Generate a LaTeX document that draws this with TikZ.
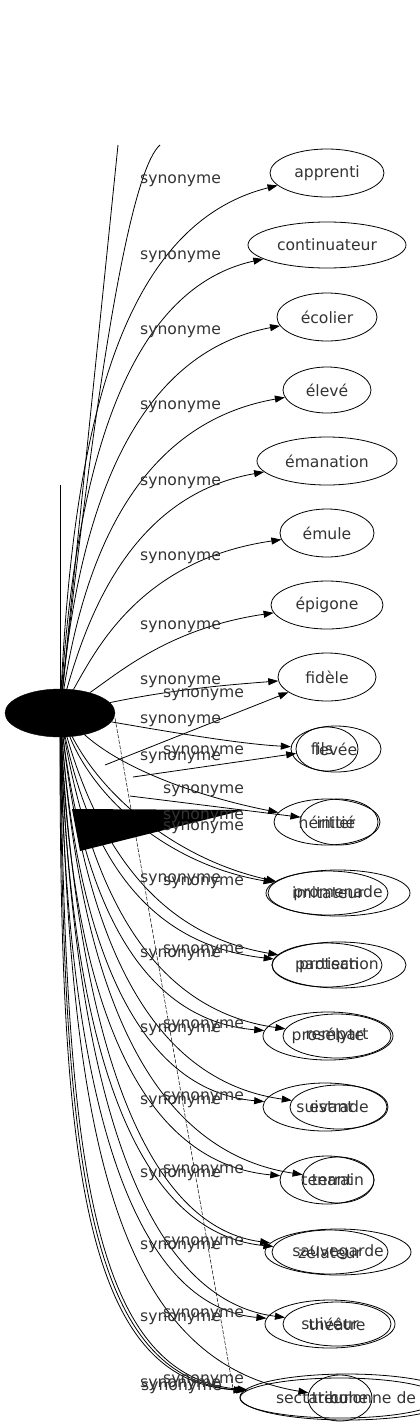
\documentclass[tikz,border=0pt]{standalone}
\usepackage{fontspec}
\usetikzlibrary{shapes.geometric,arrows.meta}
\newfontfamily\dvsans{DejaVu Sans}
\newcommand\synfont{\dvsans\fontsize{15.6}{18}\selectfont}
\definecolor{txt}{gray}{0.2}
\tikzset{
  syn/.style={draw, ellipse, inner sep=0pt, text=txt, font=\synfont, line width=0.8pt},
  txtonly/.style={inner sep=0pt, text=txt, font=\synfont},
  lab/.style={inner sep=0pt, anchor=west, text=txt, font=\synfont},
  edge/.style={line width=0.8pt},
  arr/.style={line width=0.8pt, -{Triangle[length=10pt,width=7pt]}}
}
\begin{document}
\begin{tikzpicture}[x=1pt,y=-1pt]
\useasboundingbox (0,0) rectangle (420,1427);
% main node
\node[draw, fill=black, ellipse, minimum width=110pt, minimum height=48pt, inner sep=0pt] (m) at (60,713) {};
% upper nodes
\node[syn, minimum width=114pt, minimum height=48pt] (apprenti) at (327,173) {apprenti};
\node[syn, minimum width=158pt, minimum height=46pt] (continuateur) at (327,245) {continuateur};
\node[syn, minimum width=100pt, minimum height=48pt] (ecolier) at (327,317) {écolier};
\node[syn, minimum width=88pt, minimum height=46pt] (eleve) at (327,390) {élevé};
\node[syn, minimum width=140pt, minimum height=48pt] (emanation) at (327,461) {émanation};
\node[syn, minimum width=94pt, minimum height=48pt] (emule) at (327,533) {émule};
\node[syn, minimum width=112pt, minimum height=48pt] (epigone) at (327,605) {épigone};
\node[syn, minimum width=98pt, minimum height=48pt] (fidele) at (327,677) {fidèle};
% overlapping pairs
\node[syn, minimum width=90pt, minimum height=46pt] (levee) at (336,749) {};
\node[syn, minimum width=62pt, minimum height=44pt] (fils) at (327,749) {};
\node[txtonly] at (336,749) {levée};
\node[txtonly] at (322,749) {fils};
\node[syn, minimum width=106pt, minimum height=46pt] (heritier) at (327,822) {};
\node[syn, minimum width=78pt, minimum height=46pt] (initie) at (339,822) {};
\node[txtonly] at (327,822) {héritier};
\node[txtonly] at (336,822) {initié};
\node[syn, minimum width=144pt, minimum height=46pt] (promenade) at (338,893) {};
\node[syn, minimum width=120pt, minimum height=44pt] (imitateur) at (328,893) {};
\node[txtonly] at (328,893) {imitateur};
\node[txtonly] at (338,893) {promenade};
\node[syn, minimum width=134pt, minimum height=46pt] (protection) at (339,965) {};
\node[syn, minimum width=110pt, minimum height=44pt] (partisan) at (327,965) {};
\node[txtonly] at (327,965) {partisan};
\node[txtonly] at (339,965) {protection};
\node[syn, minimum width=130pt, minimum height=48pt] (proselyte) at (328,1036) {};
\node[syn, minimum width=108pt, minimum height=44pt] (rempart) at (337,1036) {};
\node[txtonly] at (328,1036) {prosélyte};
\node[txtonly] at (337,1036) {rempart};
\node[syn, minimum width=124pt, minimum height=48pt] (suivant) at (325,1107) {};
\node[syn, minimum width=98pt, minimum height=44pt] (estrade) at (339,1107) {};
\node[txtonly] at (325,1107) {suivant};
\node[txtonly] at (339,1107) {estrade};
\node[syn, minimum width=94pt, minimum height=48pt] (tenant) at (327,1180) {};
\node[syn, minimum width=72pt, minimum height=46pt] (terrain) at (338,1180) {};
\node[txtonly] at (327,1180) {tenant};
\node[txtonly] at (338,1180) {terrain};
\node[syn, minimum width=146pt, minimum height=46pt] (sauvegarde) at (338,1252) {};
\node[syn, minimum width=116pt, minimum height=44pt] (zelateur) at (330,1252) {};
\node[txtonly] at (330,1252) {zélateur};
\node[txtonly] at (338,1252) {sauvegarde};
\node[syn, minimum width=130pt, minimum height=48pt] (suiveur) at (330,1324) {};
\node[syn, minimum width=108pt, minimum height=44pt] (theatre) at (337,1324) {};
\node[txtonly] at (330,1324) {suiveur};
\node[txtonly] at (337,1324) {théâtre};
\node[syn, minimum width=214pt, minimum height=46pt] (terme) at (347,1397) {};
\node[syn, minimum width=200pt, minimum height=40pt] (sectateur) at (340,1398) {};
\node[syn, minimum width=64pt, minimum height=46pt] (tribune) at (340,1398) {};
\node[txtonly] at (313,1398) {sectateur};
\node[txtonly] at (340,1398) {tribune};
\node[txtonly, anchor=west] at (330,1398) {colonne de terme};
% free ends
\coordinate (t1) at (118,145);
\coordinate (t2) at (160,145);
\coordinate (t3) at (60,485);
\coordinate (f1) at (105,765);
\coordinate (f2) at (133,777);
\coordinate (f3) at (130,796);
\coordinate (d1) at (115,718);
\coordinate (d2) at (234,1394);
% edges off the top
\draw[edge] (t1) -- (m);
\draw[edge] (t2) .. controls (137,165) and (105,300) .. (m);
\draw[edge] (t3) -- (m);
% upper edges
\draw[arr] (m) .. controls (74,430) and (120,225) .. (apprenti);
\draw[arr] (m) .. controls (76,480) and (122,290) .. (continuateur);
\draw[arr] (m) .. controls (78,530) and (125,355) .. (ecolier);
\draw[arr] (m) .. controls (82,575) and (128,425) .. (eleve);
\draw[arr] (m) .. controls (88,615) and (132,495) .. (emanation);
\draw[arr] (m) .. controls (96,650) and (140,560) .. (emule);
\draw[arr] (m) .. controls (120,672) and (170,628) .. (epigone);
\draw[arr] (m) .. controls (180,688) and (240,684) .. (fidele);
\draw[arr] (f1) -- (fidele);
\draw[arr] (m) .. controls (170,732) and (240,744) .. (levee);
\draw[arr] (f2) -- (fils);
\draw[arr] (m) .. controls (130,775) and (215,800) .. (heritier);
\draw[arr] (f3) -- (initie);
\draw[arr] (m) .. controls (105,800) and (180,860) .. (imitateur);
\draw[arr] (m) .. controls (98,805) and (175,866) .. (promenade);
% lower edges
\draw[arr] (m) .. controls (92,860) and (150,945) .. (partisan);
\draw[arr] (m) .. controls (100,850) and (160,935) .. (protection);
\draw[arr] (m) .. controls (84,900) and (140,1020) .. (proselyte);
\draw[arr] (m) .. controls (92,890) and (150,1010) .. (rempart);
\draw[arr] (m) .. controls (78,940) and (135,1090) .. (suivant);
\draw[arr] (m) .. controls (86,930) and (145,1080) .. (estrade);
\draw[arr] (m) .. controls (72,980) and (130,1162) .. (tenant);
\draw[arr] (m) .. controls (80,970) and (140,1150) .. (terrain);
\draw[arr] (m) .. controls (70,1020) and (125,1232) .. (zelateur);
\draw[arr] (m) .. controls (76,1010) and (135,1225) .. (sauvegarde);
\draw[arr] (m) .. controls (66,1060) and (120,1305) .. (suiveur);
\draw[arr] (m) .. controls (72,1050) and (130,1298) .. (theatre);
\draw[arr] (m) .. controls (60,1150) and (80,1380) .. (terme);
\draw[arr] (m) .. controls (63,1150) and (84,1378) .. (sectateur);
\draw[arr] (m) .. controls (66,1150) and (88,1376) .. (sectateur);
\draw[arr] (m) .. controls (70,1120) and (110,1360) .. (tribune);
\draw[line width=0.5pt, dash pattern=on 4pt off 1.5pt] (d1) -- (d2);
% big triangle
\fill[black] (72,809) -- (244,810) -- (80,851) -- cycle;
% labels
\foreach \ly in {181,257,332,407,483,558,627,682,721,758,880,955,1030,1102,1175,1247,1319,1385}
  \node[lab] at (140,\ly) {synonyme};
\foreach \ly in {695,752,791,817,828,883,951,1026,1098,1171,1243,1315,1381}
  \node[lab] at (163,\ly) {synonyme};
\node[lab] at (141,1388) {synonyme};
\end{tikzpicture}
\end{document}
